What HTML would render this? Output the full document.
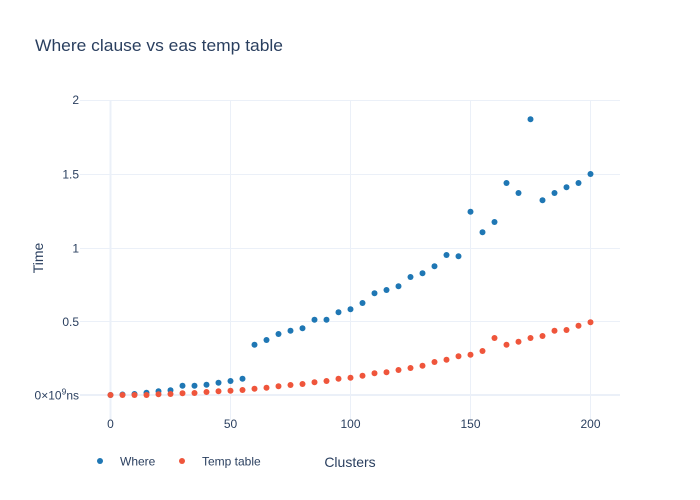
<!DOCTYPE html>
<html><head><meta charset="utf-8"><style>
html,body{margin:0;padding:0;background:#fff;}
svg{display:block;font-family:"Liberation Sans",sans-serif;}
</style></head><body>
<svg width="700" height="500" viewBox="0 0 700 500" xmlns="http://www.w3.org/2000/svg">
<rect width="700" height="500" fill="#fff"/>
<g stroke="#EBF0F8" stroke-width="1">
<line x1="230.5" y1="100" x2="230.5" y2="420"/>
<line x1="350.5" y1="100" x2="350.5" y2="420"/>
<line x1="470.5" y1="100" x2="470.5" y2="420"/>
<line x1="590.5" y1="100" x2="590.5" y2="420"/>
<line x1="80" y1="100.5" x2="620" y2="100.5"/>
<line x1="80" y1="174.5" x2="620" y2="174.5"/>
<line x1="80" y1="248.5" x2="620" y2="248.5"/>
<line x1="80" y1="321.5" x2="620" y2="321.5"/>
</g>
<g stroke="#EBF0F8" stroke-width="2">
<line x1="110.5" y1="100" x2="110.5" y2="420"/>
<line x1="80" y1="395" x2="620" y2="395"/>
</g>
<text x="35" y="51" font-size="17" fill="#2a3f5f" textLength="248" lengthAdjust="spacingAndGlyphs">Where clause vs eas temp table</text>
<g font-size="12" fill="#2a3f5f" text-anchor="end">
<text x="79" y="104">2</text>
<text x="79" y="178.5">1.5</text>
<text x="79" y="252.5">1</text>
<text x="79" y="326">0.5</text>
<text x="79" y="399.5">0×10<tspan font-size="8.5" dy="-5">9</tspan><tspan dy="5">ns</tspan></text>
</g>
<g font-size="12" fill="#2a3f5f" text-anchor="middle">
<text x="110.5" y="428">0</text>
<text x="230.5" y="428">50</text>
<text x="350.5" y="428">100</text>
<text x="470.5" y="428">150</text>
<text x="590.5" y="428">200</text>
</g>
<text x="350" y="467" font-size="14" fill="#2a3f5f" text-anchor="middle">Clusters</text>
<text transform="translate(43,258) rotate(-90)" font-size="14" fill="#2a3f5f" text-anchor="middle">Time</text>
<g fill="#1f77b4">
<circle cx="110.5" cy="395" r="3"/>
<circle cx="122.5" cy="394.5" r="3"/>
<circle cx="134.5" cy="394" r="3"/>
<circle cx="146.5" cy="392.7" r="3"/>
<circle cx="158.5" cy="391.3" r="3"/>
<circle cx="170.5" cy="390.3" r="3"/>
<circle cx="182.5" cy="385.7" r="3"/>
<circle cx="194.5" cy="385.7" r="3"/>
<circle cx="206.5" cy="384.7" r="3"/>
<circle cx="218.5" cy="382.7" r="3"/>
<circle cx="230.5" cy="381" r="3"/>
<circle cx="242.5" cy="378.7" r="3"/>
<circle cx="254.5" cy="344.7" r="3"/>
<circle cx="266.5" cy="340" r="3"/>
<circle cx="278.5" cy="334" r="3"/>
<circle cx="290.5" cy="330.7" r="3"/>
<circle cx="302.5" cy="328.3" r="3"/>
<circle cx="314.5" cy="319.7" r="3"/>
<circle cx="326.5" cy="319.7" r="3"/>
<circle cx="338.5" cy="312.3" r="3"/>
<circle cx="350.5" cy="309.3" r="3"/>
<circle cx="362.5" cy="303" r="3"/>
<circle cx="374.5" cy="293.3" r="3"/>
<circle cx="386.5" cy="290" r="3"/>
<circle cx="398.5" cy="286.3" r="3"/>
<circle cx="410.5" cy="277" r="3"/>
<circle cx="422.5" cy="273.3" r="3"/>
<circle cx="434.5" cy="266.3" r="3"/>
<circle cx="446.5" cy="255" r="3"/>
<circle cx="458.5" cy="256.3" r="3"/>
<circle cx="470.5" cy="211.7" r="3"/>
<circle cx="482.5" cy="232.3" r="3"/>
<circle cx="494.5" cy="222" r="3"/>
<circle cx="506.5" cy="183" r="3"/>
<circle cx="518.5" cy="193" r="3"/>
<circle cx="530.5" cy="119.3" r="3"/>
<circle cx="542.5" cy="200.3" r="3"/>
<circle cx="554.5" cy="193" r="3"/>
<circle cx="566.5" cy="187.3" r="3"/>
<circle cx="578.5" cy="183" r="3"/>
<circle cx="590.5" cy="174" r="3"/>
</g>
<g fill="#EF553B">
<circle cx="110.5" cy="395" r="3"/>
<circle cx="122.5" cy="395" r="3"/>
<circle cx="134.5" cy="395" r="3"/>
<circle cx="146.5" cy="395" r="3"/>
<circle cx="158.5" cy="394.3" r="3"/>
<circle cx="170.5" cy="394" r="3"/>
<circle cx="182.5" cy="393.3" r="3"/>
<circle cx="194.5" cy="393" r="3"/>
<circle cx="206.5" cy="392" r="3"/>
<circle cx="218.5" cy="391.3" r="3"/>
<circle cx="230.5" cy="390.7" r="3"/>
<circle cx="242.5" cy="390" r="3"/>
<circle cx="254.5" cy="388.7" r="3"/>
<circle cx="266.5" cy="387.7" r="3"/>
<circle cx="278.5" cy="386.3" r="3"/>
<circle cx="290.5" cy="385" r="3"/>
<circle cx="302.5" cy="384" r="3"/>
<circle cx="314.5" cy="382.3" r="3"/>
<circle cx="326.5" cy="381" r="3"/>
<circle cx="338.5" cy="378.7" r="3"/>
<circle cx="350.5" cy="377.7" r="3"/>
<circle cx="362.5" cy="375.7" r="3"/>
<circle cx="374.5" cy="373.3" r="3"/>
<circle cx="386.5" cy="372.3" r="3"/>
<circle cx="398.5" cy="370" r="3"/>
<circle cx="410.5" cy="368" r="3"/>
<circle cx="422.5" cy="365.7" r="3"/>
<circle cx="434.5" cy="362" r="3"/>
<circle cx="446.5" cy="359.7" r="3"/>
<circle cx="458.5" cy="356.3" r="3"/>
<circle cx="470.5" cy="354.7" r="3"/>
<circle cx="482.5" cy="351" r="3"/>
<circle cx="494.5" cy="338" r="3"/>
<circle cx="506.5" cy="344.7" r="3"/>
<circle cx="518.5" cy="341.7" r="3"/>
<circle cx="530.5" cy="338" r="3"/>
<circle cx="542.5" cy="336" r="3"/>
<circle cx="554.5" cy="330.7" r="3"/>
<circle cx="566.5" cy="330" r="3"/>
<circle cx="578.5" cy="325.7" r="3"/>
<circle cx="590.5" cy="322.3" r="3"/>
</g>
<circle cx="100" cy="461" r="3" fill="#1f77b4"/>
<text x="120" y="465.5" font-size="12" fill="#2a3f5f">Where</text>
<circle cx="182" cy="461" r="3" fill="#EF553B"/>
<text x="202" y="465.5" font-size="12" fill="#2a3f5f">Temp table</text>
</svg>
</body></html>
